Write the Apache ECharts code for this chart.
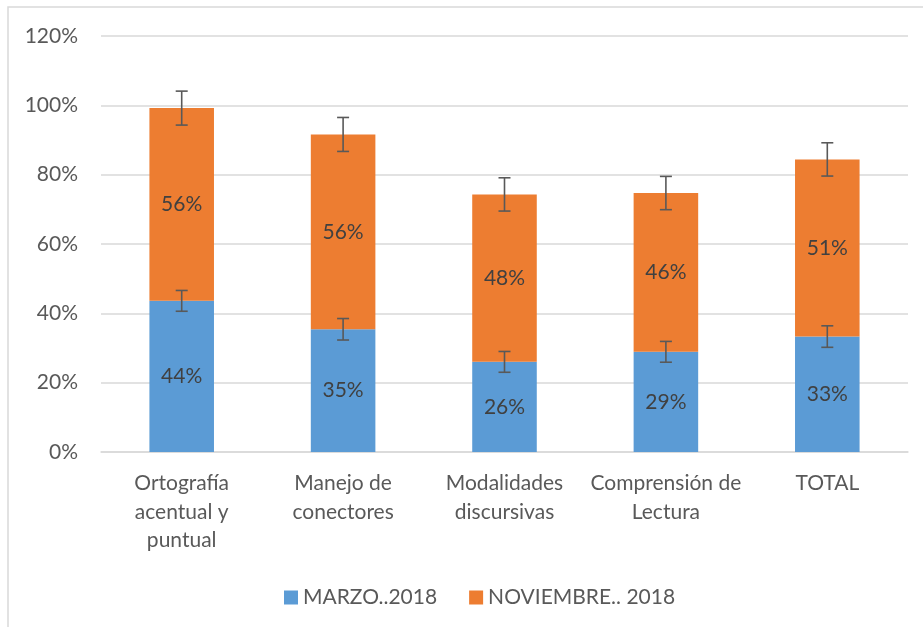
<!DOCTYPE html>
<html>
<head>
<meta charset="utf-8">
<script src="https://cdn.jsdelivr.net/npm/echarts@6/dist/echarts.min.js"></script>
<style>
  html, body { margin: 0; padding: 0; background: #fff; }
  #chart { width: 923px; height: 627px; }
</style>
</head>
<body>
<div id="chart"></div>
<script>
// categorias del eje x
const categorias = ['Ortografía\nacentual y\npuntual', 'Manejo de\nconectores', 'Modalidades\ndiscursivas', 'Comprensión de\nLectura', 'TOTAL'];
// valores en %
const marzo = [43.6, 35.4, 26.0, 28.9, 33.3];
const noviembre = [55.6, 56.2, 48.3, 45.8, 51.1];
// barras de error (+/-)
const errMarzo = [3.0, 3.1, 3.0, 3.0, 3.1];
const errNoviembre = [4.9, 4.9, 4.8, 4.8, 4.8];

const fuente = 'Lato';
const gris = '#595959';
const tam = 21;

// punto central + error, para la serie custom
const errDataMarzo = marzo.map(function (v, i) { return [i, v, errMarzo[i]]; });
const errDataNov = noviembre.map(function (v, i) { return [i, marzo[i] + v, errNoviembre[i]]; });

function dibujarError(params, api) {
  const i = api.value(0);
  const c = api.value(1);
  const e = api.value(2);
  const top = api.coord([i, c + e]);
  const bot = api.coord([i, c - e]);
  const w = 6;
  const estilo = { stroke: gris, lineWidth: 1.6 };
  return {
    type: 'group',
    children: [
      { type: 'line', shape: { x1: top[0], y1: top[1], x2: bot[0], y2: bot[1] }, style: estilo },
      { type: 'line', shape: { x1: top[0] - w, y1: top[1], x2: top[0] + w, y2: top[1] }, style: estilo },
      { type: 'line', shape: { x1: bot[0] - w, y1: bot[1], x2: bot[0] + w, y2: bot[1] }, style: estilo }
    ]
  };
}

const myChart = echarts.init(document.getElementById('chart'));
myChart.setOption({
  animation: false,
  textStyle: { fontFamily: fuente },
  graphic: [
    {
      type: 'rect',
      shape: { x: 8, y: 7, width: 1000, height: 1000 },
      style: { fill: 'none', stroke: '#d9d9d9', lineWidth: 1.5 },
      silent: true
    }
  ],
  grid: { left: 101, right: 15, top: 36, bottom: 175 },
  legend: {
    left: 279,
    top: 582,
    itemWidth: 14,
    itemHeight: 14,
    itemGap: 32,
    icon: 'rect',
    textStyle: { color: gris, fontSize: tam, fontFamily: fuente },
    data: ['MARZO..2018', 'NOVIEMBRE.. 2018']
  },
  xAxis: {
    type: 'category',
    data: categorias,
    axisTick: { show: false },
    axisLine: { lineStyle: { color: '#d9d9d9', width: 1.5 } },
    axisLabel: { color: gris, fontSize: tam, lineHeight: 28.5, margin: 17, interval: 0 }
  },
  yAxis: {
    type: 'value',
    min: 0,
    max: 120,
    interval: 20,
    axisLine: { show: false },
    axisTick: { show: false },
    splitLine: { lineStyle: { color: '#d9d9d9', width: 1.5 } },
    axisLabel: { color: gris, fontSize: tam, margin: 23, formatter: '{value}%' }
  },
  series: [
    {
      name: 'MARZO..2018',
      type: 'bar',
      stack: 'total',
      barCategoryGap: '60%',
      itemStyle: { color: '#5B9BD5' },
      label: {
        show: true,
        position: 'inside',
        color: '#404040',
        fontSize: tam,
        formatter: function (p) { return Math.round(p.value) + '%'; }
      },
      data: marzo
    },
    {
      name: 'NOVIEMBRE.. 2018',
      type: 'bar',
      stack: 'total',
      barCategoryGap: '60%',
      itemStyle: { color: '#ED7D31' },
      label: {
        show: true,
        position: 'inside',
        color: '#404040',
        fontSize: tam,
        formatter: function (p) { return Math.round(p.value) + '%'; }
      },
      data: noviembre
    },
    {
      type: 'custom',
      renderItem: dibujarError,
      z: 10,
      silent: true,
      data: errDataMarzo
    },
    {
      type: 'custom',
      renderItem: dibujarError,
      z: 10,
      silent: true,
      data: errDataNov
    }
  ]
});
</script>
</body>
</html>
